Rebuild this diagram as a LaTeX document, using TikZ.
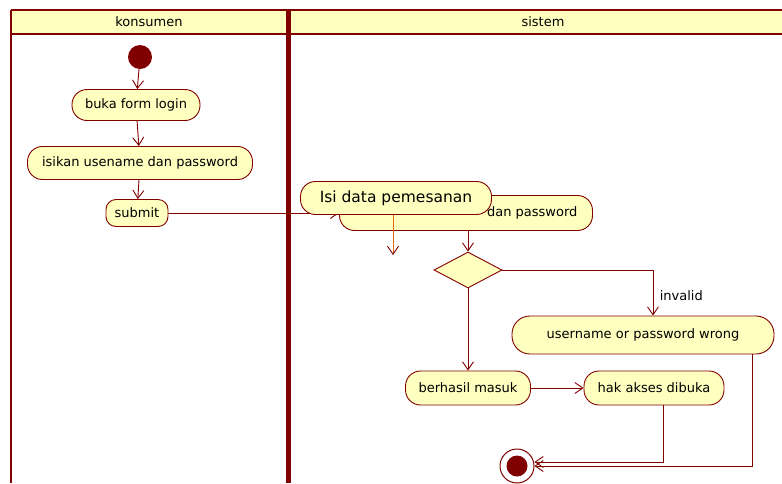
\documentclass[tikz,border=0pt]{standalone}
\usepackage{fontspec}
\setmainfont{DejaVu Sans}
\usetikzlibrary{arrows.meta,shapes.geometric,calc}

\definecolor{umlred}{HTML}{800000}
\definecolor{umlfill}{HTML}{FFFFC0}
\definecolor{flowor}{HTML}{E06A10}

\tikzset{
  act/.style={draw=umlred, fill=umlfill, rectangle, rounded corners=15pt, inner sep=0pt, line width=0.9pt},
  flow/.style={draw=umlred, line width=0.9pt, -{Straight Barb[length=8pt, width=11pt]}},
}

\begin{document}
\begin{tikzpicture}[x=1pt, y=-1pt, font=\fontsize{13}{15}\selectfont]
    \useasboundingbox (0,0) rectangle (782,483);
    % lanes
    \fill[umlfill] (11,10) rectangle (782,34);
    \draw[umlred, line width=2.5pt] (11,10) -- (782,10);
    \draw[umlred, line width=2pt] (11,34) -- (782,34);
    \draw[umlred, line width=2.5pt] (11,10) -- (11,483);
    \draw[umlred, line width=5pt] (288,10) -- (288,483);
    \node (hk) at (149,22) {konsumen};
    \node (hs) at (543,22) {sistem};

    % konsumen
    \node[circle, fill=umlred, minimum size=24, inner sep=0pt] (start) at (140,57) {};
    \node[act, minimum width=128, minimum height=31] (buka) at (136,105) {buka form login};
    \node[act, minimum width=225, minimum height=33] (isi) at (140,163) {isikan usename dan password};
    \node[act, minimum width=62, minimum height=27, rounded corners=10pt] (submit) at (137,213) {submit};

    % sistem
    \node[act, minimum width=253, minimum height=35] (cek) at (466,213) {};
    \node[anchor=east] (cektxt) at ($(cek.east)+(-12,0)$) {dan password};
    \node[diamond, draw=umlred, fill=umlfill, line width=0.9pt, minimum width=68, minimum height=36, inner sep=0pt] (dia) at (468,270) {};
    \node[act, minimum width=262, minimum height=38, rounded corners=18pt] (wrong) at (643,335) {username or password wrong};
    \node[act, minimum width=125, minimum height=34] (masuk) at (468,388) {berhasil masuk};
    \node[act, minimum width=140, minimum height=34] (hak) at (654,388) {hak akses dibuka};
    \node[circle, draw=umlred, fill=white, line width=1pt, minimum size=34, inner sep=0pt] (end) at (517,466) {};
    \fill[umlred] (end) circle (10.5);

    \draw[flow] (start) -- (buka);
    \draw[flow] (buka) -- (isi);
    \draw[flow] (isi) -- (submit);
    \draw[flow] (submit.east) -- (cek.west);
    \draw[flow] (cek.south -| dia.north) -- (dia.north);
    \draw[flow] (dia.east) -| node[pos=0.78, right=3pt] {invalid} ($(wrong.north)+(10,0)$);
    \draw[flow] (dia.south) -- (masuk.north);
    \draw[flow] (masuk) -- (hak);
    \coordinate (e1) at ($(end.east)+(0,-4)$);
    \draw[flow] ($(hak.south)+(9,0)$) |- (e1);
    \draw[flow] ($(wrong.south)+(109,0)$) |- (end.east);

    % front node
    \node[act, minimum width=191, minimum height=33, font=\fontsize{15.5}{18}\selectfont] (pesan) at (396,198) {Isi data pemesanan};
    \coordinate (o1) at (393,255);
    \draw[flow, draw=flowor, -{Straight Barb[length=8pt, width=11pt, color=umlred]}] (pesan.south -| o1) -- (o1);
\end{tikzpicture}
\end{document}
